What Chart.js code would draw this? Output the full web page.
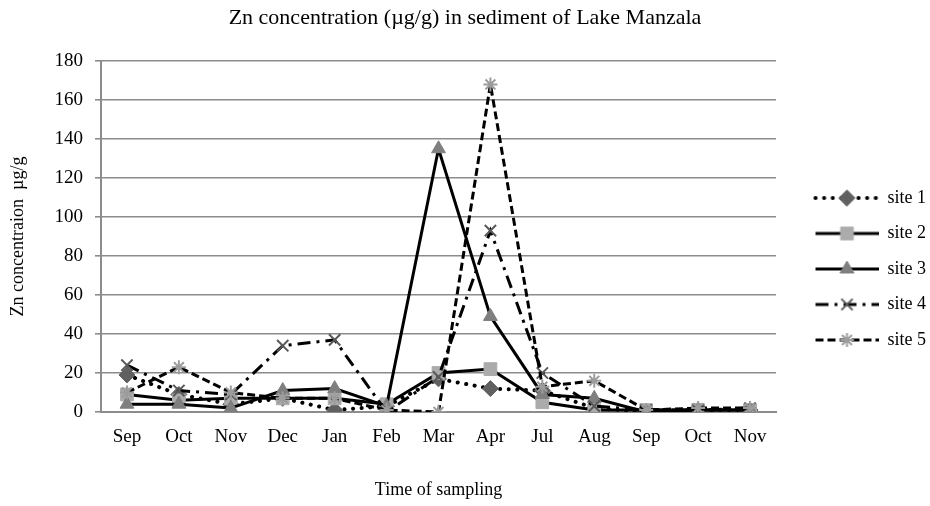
<!DOCTYPE html>
<html>
<head>
<meta charset="utf-8">
<script src="https://cdn.jsdelivr.net/npm/chart.js@4.4.1/dist/chart.umd.min.js"></script>
<style>
  html, body { margin: 0; padding: 0; background: #fff; }
  #wrap { width: 930px; height: 506px; }
</style>
</head>
<body>
<div id="wrap"><canvas id="znChart" width="930" height="506"></canvas></div>
<script>
// sampling months (Sep of one year to Nov of the next)
const months = ['Sep', 'Oct', 'Nov', 'Dec', 'Jan', 'Feb', 'Mar', 'Apr', 'Jul', 'Aug', 'Sep', 'Oct', 'Nov'];

// Zn concentration, ug/g
const site1 = [19, 9, 4, 7, 1, 3, 17, 12, 11, 2, 0, 1, 1];
const site2 = [9, 6, 7, 7, 7, 4, 20, 22, 5, 1, 1, 1, 1];
const site3 = [4, 4, 2, 11, 12, 3, 135, 49, 9, 7, 0, 1, 1];
const site4 = [24, 11, 9, 34, 37, 0, 18, 93, 20, 3, 1, 1, 2];
const site5 = [10, 23, 10, 7, 7, 1, 0, 168, 13, 16, 1, 2, 2];

const yTicks = [0, 20, 40, 60, 80, 100, 120, 140, 160, 180];

const serif = '"Liberation Serif", "Times New Roman", serif';
const gridGray = '#8c8c8c';

function series(label, data, dash, cap, marker, radius, fill, stroke, order) {
    return {
        label: label,
        data: data,
        borderColor: '#000',
        borderWidth: dash === 'dots' ? 4 : 3,
        borderDash: dash === 'dots' ? [0.1, 8.5] : dash,
        borderCapStyle: cap,
        tension: 0,
        fill: false,
        pointStyle: marker,
        pointRadius: radius,
        pointBackgroundColor: fill,
        pointBorderColor: stroke,
        pointBorderWidth: marker === 'crossRot' || marker === 'star' ? 2 : 1,
        order: order
    };
}

const datasets = [
    series('site 1', site1, 'dots', 'round', 'rectRot', 8, '#606060', '#606060', 5),
    series('site 2', site2, [], 'butt', 'rect', 9, '#ababab', '#ababab', 4),
    series('site 3', site3, [], 'butt', 'triangle', 8, '#7f7f7f', '#7f7f7f', 3),
    series('site 4', site4, [13, 6, 3, 6], 'butt', 'crossRot', 8, '#595959', '#595959', 2),
    series('site 5', site5, [8, 4], 'butt', 'star', 7, '#9c9c9c', '#9c9c9c', 1)
];

// little line + marker swatch for the legend, like the spreadsheet one
function swatch(ds) {
    const c = document.createElement('canvas');
    c.width = 85;
    c.height = 22;
    const g = c.getContext('2d');
    g.strokeStyle = '#000';
    g.lineWidth = ds.borderWidth;
    g.lineCap = ds.borderCapStyle;
    g.setLineDash(ds.borderDash);
    g.beginPath();
    g.moveTo(22, 11);
    g.lineTo(85, 11);
    g.stroke();
    g.setLineDash([]);
    g.fillStyle = ds.pointBackgroundColor;
    g.strokeStyle = ds.pointBorderColor;
    g.lineWidth = ds.pointBorderWidth;
    Chart.helpers.drawPoint(g, {
        pointStyle: ds.pointStyle,
        radius: ds.pointRadius,
        rotation: 0,
        borderWidth: ds.pointBorderWidth
    }, 53.5, 11);
    return c;
}

const swatches = datasets.map(swatch);

const ctx = document.getElementById('znChart').getContext('2d');

const chart = new Chart(ctx, {
    type: 'line',
    data: {
        labels: months,
        datasets: datasets
    },
    options: {
        responsive: false,
        animation: false,
        events: [],
        layout: { padding: 0 },
        plugins: {
            tooltip: { enabled: false },
            title: {
                display: true,
                text: 'Zn concentration (µg/g) in sediment of Lake Manzala',
                color: '#000',
                font: { family: serif, size: 22, weight: 'normal' },
                padding: { top: 5, bottom: 29.6 }
            },
            legend: {
                position: 'right',
                align: 'center',
                fullSize: true,
                maxWidth: 154,
                title: {
                    display: true,
                    text: ' ',
                    font: { size: 10 },
                    padding: 10
                },
                labels: {
                    usePointStyle: true,
                    pointStyleWidth: 85,
                    padding: 17.5,
                    color: '#000',
                    font: { family: serif, size: 18 },
                    sort: (a, b) => a.datasetIndex - b.datasetIndex,
                    generateLabels: (ch) => {
                        const items = Chart.defaults.plugins.legend.labels.generateLabels(ch);
                        items.forEach(it => { it.pointStyle = swatches[it.datasetIndex]; });
                        return items;
                    }
                }
            }
        },
        scales: {
            x: {
                offset: true,
                grid: { display: false, drawTicks: false },
                border: { display: true, color: gridGray, width: 2 },
                ticks: {
                    color: '#000',
                    padding: 13.6,
                    maxRotation: 0,
                    autoSkip: false,
                    font: { family: serif, size: 19 }
                },
                title: {
                    display: true,
                    text: 'Time of sampling',
                    color: '#000',
                    font: { family: serif, size: 18 },
                    padding: { top: 0, bottom: 5 }
                },
                afterFit: (s) => { s.height = 94; }
            },
            y: {
                min: 0,
                max: 180,
                afterBuildTicks: (s) => { s.ticks = yTicks.map(v => ({ value: v })); },
                grid: { color: gridGray, lineWidth: 1.6, drawTicks: true, tickLength: 6 },
                border: { display: true, color: gridGray, width: 2 },
                ticks: {
                    color: '#000',
                    padding: 12,
                    font: { family: serif, size: 19 }
                },
                title: {
                    display: true,
                    text: 'Zn concentraion  µg/g',
                    color: '#000',
                    font: { family: serif, size: 18 },
                    padding: { top: 7, bottom: 0 }
                },
                afterFit: (s) => { s.width = 101; }
            }
        }
    }
});
</script>
</body>
</html>
